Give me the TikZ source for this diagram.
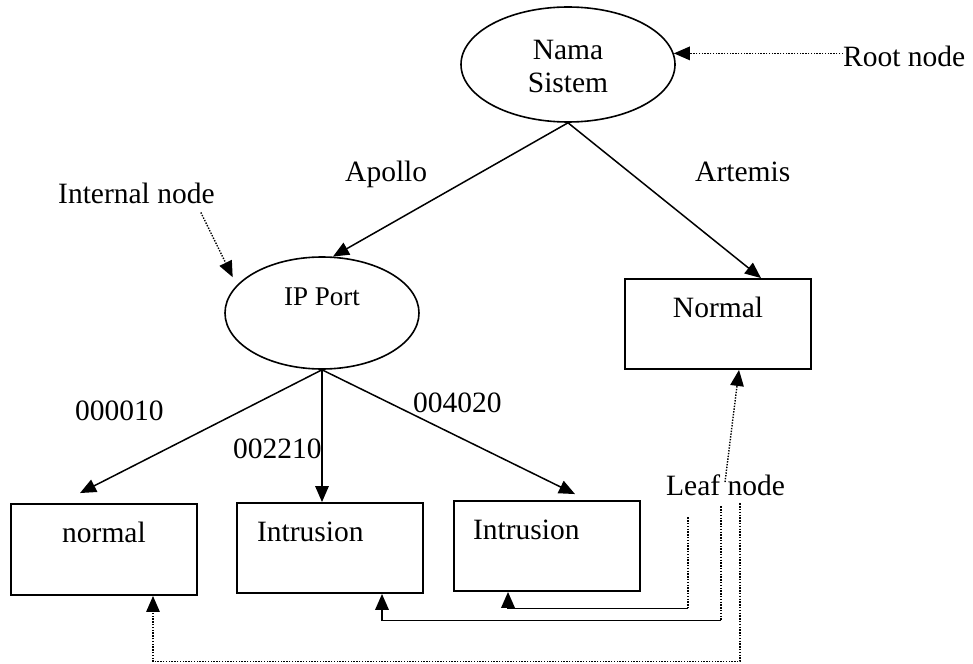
\documentclass[tikz,border=0pt]{standalone}
\usepackage{fontspec}
\setmainfont{Liberation Serif}
\usetikzlibrary{arrows.meta,shapes.geometric}
\begin{document}
\begin{tikzpicture}[x=1pt,y=-1pt,
  every node/.style={font=\fontsize{29.5}{33}\selectfont},
  lbl/.style={anchor=base west, inner sep=0pt},
  treeell/.style={draw, ellipse, line width=1.6pt, inner sep=0pt, align=center},
  leafbox/.style={draw, rectangle, line width=1.9pt, minimum width=186pt, minimum height=90pt,
                  inner sep=0pt, text height=38pt, text depth=52pt},
  tip/.style={-{Triangle[length=16pt,width=13.5pt]}},
  conn/.style={line width=1.5pt, tip},
  annotline/.style={line width=1.4pt, dash pattern=on 1.4pt off 1.4pt},
  annot/.style={annotline, tip},
  elbow/.style={line width=1.9pt, tip},
]
\useasboundingbox (0,0) rectangle (973,663);

% tree nodes
\node[treeell, minimum width=214pt, minimum height=115pt, text height=57pt, text depth=0pt]
  (root) at (568,64.5) {Nama\\Sistem};
\node[treeell, minimum width=194pt, minimum height=112pt, text height=19pt, text depth=35pt,
  font=\fontsize{27}{30}\selectfont] (ip) at (322,313) {IP Port};
\node[leafbox] (normal) at (718,324) {Normal};
\node[leafbox, minimum height=91pt, text depth=53pt] (b1) at (104,549.5) {normal};
\node[leafbox, inner xsep=20pt, text width=146pt, align=left] (b2) at (330,548) {Intrusion};
\node[leafbox, inner xsep=19pt, text width=148pt, align=left] (b3) at (547,546) {Intrusion};

% labels
\node[lbl] (apollo) at (345,182) {Apollo};
\node[lbl] (artemis) at (695,182) {Artemis};
\node[lbl] (l1) at (75,420) {000010};
\node[lbl] (l2) at (233,458) {002210};
\node[lbl] (l3) at (413,412) {004020};
\node[lbl] (rootlbl) at (843,67) {Root node};
\node[lbl] (intlbl) at (58,203) {Internal node};
\node[lbl] (leaflbl) at (666,495) {Leaf node};

% tree edges
\draw[conn] (root.south) -- (ip.79);
\draw[conn] (root.south) -- ([xshift=43pt]normal.north);
\draw[conn] (ip.south) -- ([xshift=-24pt,yshift=10pt]b1.north);
\draw[conn] (ip.south) -- ([xshift=-8pt]b2.north);
\draw[conn] (ip.south) -- ([xshift=28pt,yshift=6pt]b3.north);

% annotations
\draw[annot] (rootlbl.west |- root.6) -- (root.6);
\draw[annot, shorten >=9pt] ([xshift=-14pt,yshift=-9pt]intlbl.south east) -- (ip.162);
\draw[annot] ([xshift=59pt,yshift=-8pt]leaflbl.north west) -- ([xshift=21pt]normal.south);

\draw[annotline] ([xshift=22pt,yshift=-22pt]leaflbl.south west) -- ++(0,91) coordinate (e3);
\draw[elbow] (e3) -| ([xshift=-39pt]b3.south);
\draw[annotline] ([xshift=55pt,yshift=-11pt]leaflbl.south west) -- ++(0,114) coordinate (e2);
\draw[elbow] (e2) -| ([xshift=52pt]b2.south);
\draw[annot] ([xshift=74pt,yshift=-8pt]leaflbl.south west) -- ++(0,158) -| ([xshift=49pt]b1.south);
\end{tikzpicture}
\end{document}
